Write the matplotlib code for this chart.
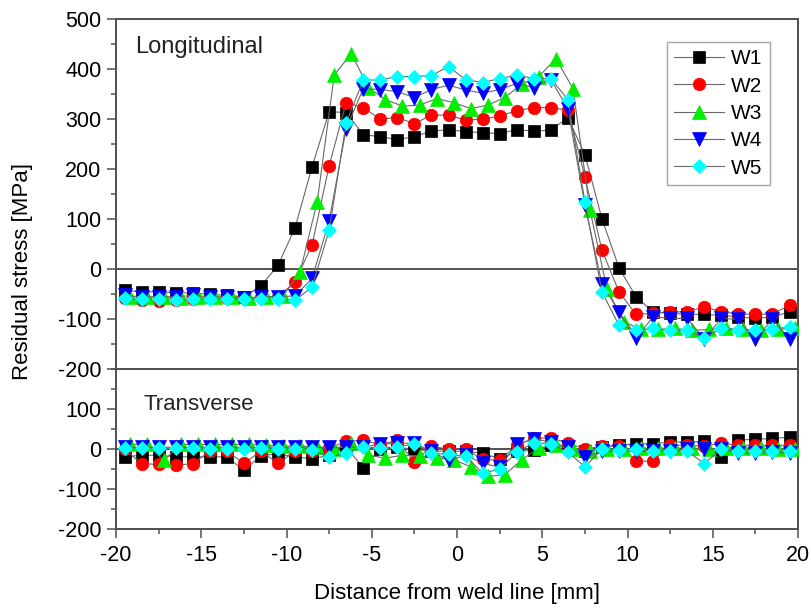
import matplotlib
matplotlib.use("Agg")
import matplotlib.pyplot as plt
from matplotlib.ticker import MultipleLocator

plt.rcParams['font.family'] = ['Liberation Sans', 'DejaVu Sans']
plt.rcParams['axes.unicode_minus'] = False

# ---------------- data ----------------
distance = [-19.5, -18.5, -17.5, -16.5, -15.5, -14.5, -13.5, -12.5, -11.5, -10.5,
            -9.5, -8.5, -7.5, -6.5, -5.5, -4.5, -3.5, -2.5, -1.5, -0.5,
            0.5, 1.5, 2.5, 3.5, 4.5, 5.5, 6.5, 7.5, 8.5, 9.5,
            10.5, 11.5, 12.5, 13.5, 14.5, 15.5, 16.5, 17.5, 18.5, 19.5]
# W3 was measured at slightly shifted positions
distance_w3 = [-19.2, -18.2, -17.2, -16.2, -15.2, -14.2, -13.2, -12.2, -11.2, -10.2,
               -9.2, -8.2, -7.2, -6.2, -5.2, -4.2, -3.2, -2.2, -1.2, -0.2,
               0.8, 1.8, 2.8, 3.8, 4.8, 5.8, 6.8, 7.8, 8.8, 9.8,
               10.8, 11.8, 12.8, 13.8, 14.8, 15.8, 16.8, 17.8, 18.8, 19.8]

labels = ['W1', 'W2', 'W3', 'W4', 'W5']

long_w1 = [-42, -45, -45, -47, -47, -50, -52, -55, -33, 8,
           83, 205, 315, 313, 269, 265, 259, 265, 276, 279,
           275, 273, 271, 279, 276, 278, 303, 229, 101, 3,
           -55, -85, -88, -90, -90, -92, -95, -98, -95, -85]
long_w2 = [-58, -62, -63, -62, -60, -58, -58, -58, -55, -55,
           -25, 49, 207, 333, 323, 300, 303, 291, 308, 308,
           298, 300, 306, 317, 323, 323, 318, 185, 38, -45,
           -90, -88, -85, -85, -75, -85, -89, -90, -89, -72]
long_w3 = [-55, -55, -55, -58, -55, -55, -55, -58, -55, -53,
           -5, 135, 388, 431, 363, 339, 326, 328, 341, 333,
           321, 328, 343, 370, 385, 421, 361, 118, -40, -105,
           -120, -120, -118, -122, -120, -118, -120, -122, -120, -118]
long_w4 = [-52, -55, -55, -55, -52, -55, -55, -58, -55, -55,
           -53, -18, 97, 281, 361, 359, 355, 343, 359, 368,
           358, 352, 359, 371, 363, 379, 321, 128, -29, -85,
           -137, -95, -98, -98, -139, -98, -100, -139, -100, -139]
long_w5 = [-58, -60, -60, -62, -60, -60, -60, -60, -60, -60,
           -62, -35, 78, 293, 378, 378, 385, 385, 387, 405,
           379, 373, 381, 388, 381, 381, 339, 135, -45, -112,
           -122, -118, -122, -122, -137, -118, -122, -122, -120, -115]

trans_w1 = [-19, -15, -15, -19, -19, -19, -19, -53, -16, -12,
            -19, -24, -15, 5, -47, 0, 5, 0, -5, -5,
            -5, -10, -24, -5, -3, 10, 5, -5, 6, 10,
            14, 14, 18, 18, 20, -20, 23, 25, 27, 30]
trans_w2 = [0, -36, -38, -40, -36, -5, -5, -35, -5, -35,
            -5, -5, 3, 20, 22, 12, 22, -32, 8, 0,
            0, -25, -28, 10, 28, 28, 16, 0, 8, 8,
            -30, -30, 10, 10, 8, 15, 10, 10, 10, 10]
trans_w3 = [12, 12, -28, 12, 12, 12, 12, 12, 10, 8,
            8, 5, 0, 16, -15, -22, -15, -17, -22, -26,
            -44, -68, -64, -26, 3, 10, 0, -5, 0, 0,
            3, 3, 3, 3, 0, 3, 3, 3, 0, 0]
trans_w4 = [5, 5, 5, 5, 5, 5, 5, 5, 5, 5,
            5, 5, 5, 5, 5, 13, 15, 15, -5, -28,
            -15, -35, -45, 12, 26, 18, 5, -19, -5, -5,
            -5, -5, -5, 0, 1, 0, -10, -10, -8, -10]
trans_w5 = [3, 3, 3, 3, 3, 0, 0, 0, 3, 0,
            0, -3, -20, -10, 6, 3, 6, 13, -10, -13,
            -17, -60, -50, -7, 16, 14, -7, -44, 0, -3,
            0, -5, -5, -5, -36, 0, -5, -5, -5, -5]

# ---------------- styles ----------------
colors = ['#000000', '#ff0000', '#00ee00', '#0000ff', '#00ffff']
markers = ['s', 'o', '^', 'v', 'D']
msizes = [8, 9, 10, 10, 7]
line_col = '#686868'
spine_col = '#505050'

fig = plt.figure(figsize=(8.12, 6.08), dpi=100)
ax1 = fig.add_axes([0.1429, 0.3923, 0.8399, 0.5765])
ax2 = fig.add_axes([0.1429, 0.1299, 0.8399, 0.2624])

long_series = [long_w1, long_w2, long_w3, long_w4, long_w5]
trans_series = [trans_w1, trans_w2, trans_w3, trans_w4, trans_w5]
xs = [distance, distance, distance_w3, distance, distance]

for ax in (ax1, ax2):
    ax.axhline(0, color='#333333', lw=1.2, zorder=1)

for i in range(5):
    ax1.plot(xs[i], long_series[i], color=line_col, lw=0.8, marker=markers[i],
             ms=msizes[i], mfc=colors[i], mec=colors[i], mew=0.5,
             label=labels[i], zorder=2 + i)
    ax2.plot(xs[i], trans_series[i], color=line_col, lw=0.8, marker=markers[i],
             ms=msizes[i], mfc=colors[i], mec=colors[i], mew=0.5, zorder=2 + i)

ax1.set_xlim(-20, 20)
ax2.set_xlim(-20, 20)
ax1.set_ylim(-200, 500)
ax2.set_ylim(-200, 200)

ax1.set_yticks([-200, -100, 0, 100, 200, 300, 400, 500])
ax2.set_yticks([-200, -100, 0, 100])

for ax in (ax1, ax2):
    ax.xaxis.set_major_locator(MultipleLocator(5))
    ax.xaxis.set_minor_locator(MultipleLocator(2.5))
    ax.yaxis.set_minor_locator(MultipleLocator(50))
    ax.tick_params(which='major', direction='out', length=6.5, width=1.1,
                   color=spine_col, labelsize=15.5, pad=4)
    ax.tick_params(which='minor', direction='out', length=3.5, width=1.1,
                   color=spine_col)
    ax.tick_params(top=False, right=False)
    for s in ax.spines.values():
        s.set_color(spine_col)
        s.set_linewidth(1.4)

ax1.tick_params(axis='x', which='both', labelbottom=False)
ax2.set_xticks([-20, -15, -10, -5, 0, 5, 10, 15, 20])
ax2.tick_params(axis='x', which='major', pad=5)

ax1.text(0.028, 0.903, 'Longitudinal', transform=ax1.transAxes,
         fontsize=17, va='baseline', ha='left', color='#222222')
ax2.text(0.040, 0.746, 'Transverse', transform=ax2.transAxes,
         fontsize=16, va='baseline', ha='left', color='#222222')

fig.text(0.028, 0.553, 'Residual stress [MPa]', rotation=90,
         ha='center', va='center', fontsize=16)
fig.text(0.563, 0.014, 'Distance from weld line [mm]',
         ha='center', va='baseline', fontsize=16)

leg = ax1.legend(loc='upper right', bbox_to_anchor=(0.959, 0.934),
                 borderaxespad=0, fancybox=False, frameon=True,
                 fontsize=15, handlelength=2.4, handletextpad=0.35,
                 labelspacing=0.4, borderpad=0.35)
leg.get_frame().set_edgecolor('#909090')
leg.get_frame().set_linewidth(1.0)

fig.savefig('out.png', dpi=100)
